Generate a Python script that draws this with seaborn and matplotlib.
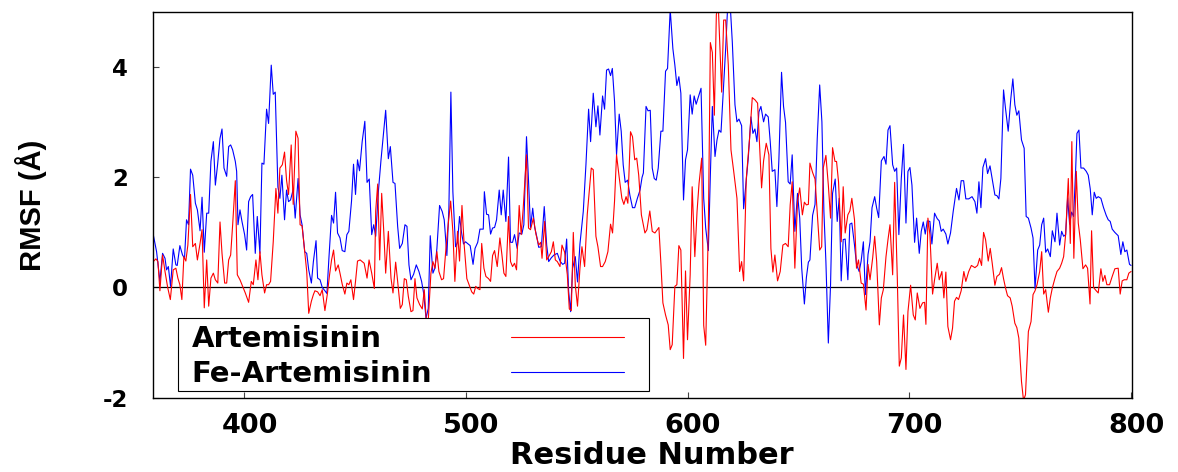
import matplotlib
matplotlib.use("Agg")
import matplotlib.pyplot as plt
from matplotlib import font_manager
from matplotlib.font_manager import FontProperties
from matplotlib.lines import Line2D
from matplotlib.patches import Rectangle
from matplotlib.transforms import ScaledTranslation
import pandas as pd
import seaborn as sns

# ---------------- data ----------------
# Fe-Artemisinin (blue)
fe_residue = [
    359.1, 360.6, 362.1, 363.3, 364.4, 365.1, 365.9, 366.9, 368.1, 369.3,
    369.9, 371.1, 372.3, 373.2, 374.1, 375.0, 375.9, 376.9, 378.1, 379.0,
    380.2, 381.1, 382.1, 383.2, 384.1, 385.1, 386.2, 387.1, 388.1, 389.2,
    390.1, 391.0, 392.2, 393.1, 394.0, 394.9, 396.1, 396.7, 397.3, 398.2,
    399.1, 400.3, 401.2, 402.1, 403.0, 403.9, 405.1, 406.0, 407.2, 408.1,
    409.0, 410.2, 411.1, 412.3, 413.2, 414.1, 415.3, 416.2, 417.1, 418.3,
    419.2, 420.1, 421.0, 422.2, 423.1, 424.4, 425.3, 426.2, 427.4, 428.3,
    429.2, 430.4, 431.3, 432.5,
    433.2, 434.3, 435.3, 436.5, 437.4, 438.3, 439.5, 440.4, 441.3, 442.2,
    443.3, 444.3, 445.5, 446.4, 447.3, 448.5, 449.4, 450.3, 451.2, 452.1,
    453.3, 454.5, 455.5, 456.5, 457.6, 458.5, 459.4, 460.6, 461.8, 463.0,
    463.9, 465.1, 466.0, 467.2, 468.1, 469.3, 470.2, 471.4, 472.6, 473.5,
    474.4, 475.3, 476.5, 477.7, 478.9, 480.1, 481.0, 482.1, 483.1, 484.0,
    485.2, 486.1, 487.0, 488.2, 489.4, 490.3, 491.5, 492.4, 493.3, 494.2,
    495.4, 496.3, 497.2, 498.1, 499.0, 499.9, 500.8, 502.0, 503.3, 504.2,
    505.4,
    506.4, 507.9, 508.4, 509.4, 510.3, 511.2, 512.1, 513.0, 513.9, 515.1,
    516.0, 516.9, 518.1, 519.3, 520.2, 521.1, 522.0, 523.2, 524.1, 525.3,
    526.2, 527.4, 528.3, 529.2, 530.2, 531.1, 532.0, 532.9, 534.1, 535.4,
    536.5, 537.4, 538.6, 539.8, 541.3, 542.5, 543.7, 544.6, 545.5, 546.4,
    547.3, 548.2, 549.4, 550.4, 551.5, 553.0, 554.2, 555.4, 556.3, 557.5,
    558.7, 559.6, 560.5, 561.7, 562.6, 563.5, 564.4, 565.3, 566.1, 567.1,
    568.0, 569.2, 570.1, 571.0, 571.9, 573.0, 574.0, 575.2, 576.2, 577.4,
    578.6, 579.5, 580.1,
    581.3, 582.2, 583.2, 584.1, 585.0, 585.9, 586.8, 588.0, 588.9, 590.1,
    591.0, 592.2, 593.4, 594.3, 595.2, 596.1, 597.0, 598.2, 599.1, 600.0,
    601.2, 602.1, 603.0, 603.9, 605.2, 606.1, 607.3, 608.2, 609.4, 610.3,
    611.2, 612.4, 613.3, 614.2, 615.1, 616.3, 617.2, 618.1, 619.3, 620.2,
    621.4, 622.3, 623.2, 624.4, 625.3, 626.5, 627.4, 628.6, 629.5, 630.4,
    631.3, 632.2, 633.1, 634.3, 635.2, 636.4, 637.3, 638.2, 639.4, 640.3,
    641.2, 642.4, 643.3, 644.2, 645.4, 646.3, 647.2, 648.4, 649.6, 650.6,
    651.5, 652.7, 653.6, 654.5,
    655.2, 656.4, 657.5, 658.5, 659.6, 660.6, 661.5, 662.4, 663.5, 664.5,
    665.4, 666.6, 667.5, 668.4, 669.3, 670.2, 671.1, 672.3, 673.2, 674.1,
    675.3, 676.2, 677.4, 678.3, 679.3, 680.2, 681.4, 682.3, 683.2, 684.4,
    685.3, 686.2, 687.4, 688.6, 689.5, 690.4, 691.3, 692.5, 693.4, 694.3,
    695.3, 696.4, 697.4, 698.5, 699.4, 700.3, 701.2, 702.4, 703.3, 704.5,
    705.4, 706.3, 707.2, 708.1, 709.3, 710.2, 711.4, 712.6, 713.5, 714.4,
    715.3, 716.5, 717.4, 718.6, 719.8, 721.3, 722.4, 723.4, 724.5, 725.5,
    726.8, 728.3,
    729.6, 730.5, 731.4, 732.3, 733.2, 734.4, 735.3, 736.4, 737.4, 738.6,
    739.5, 740.4, 741.3, 742.5, 743.4, 744.6, 745.8, 746.7, 747.6, 748.5,
    749.4, 750.6, 751.8, 752.7, 753.7, 754.9, 755.8, 756.7, 757.9, 758.8,
    759.7, 760.6, 761.5, 762.4, 763.6, 764.5, 765.7, 766.6, 767.8, 768.7,
    769.6, 770.5, 771.4, 772.3, 773.2, 774.1, 775.0, 775.6, 776.5, 777.4,
    778.6, 779.8, 780.7, 781.6, 782.5, 783.4, 784.3, 785.2, 786.4, 787.6,
    788.8, 789.7, 790.6, 791.5, 792.7, 794.2, 795.4, 796.3, 797.2, 798.1,
    799.3, 800.0,
]
fe_rmsf = [
    0.96, 0.65, 0.11, 0.62, 0.53, 0.32, 0.38, 0.02, 0.70, 0.41,
    0.40, 0.76, 0.59, 0.53, 1.23, 1.14, 2.15, 2.04, 1.53, 1.41,
    1.03, 1.64, 0.64, 1.35, 1.35, 2.29, 2.65, 1.86, 2.23, 2.71,
    2.88, 2.17, 2.02, 2.56, 2.59, 2.50, 2.29, 2.11, 1.14, 1.41,
    1.20, 0.96, 0.68, 1.56, 1.65, 1.69, 0.62, 1.29, 0.62, 2.26,
    2.24, 3.24, 2.98, 4.04, 3.51, 3.55, 1.83, 1.62, 2.04, 1.23,
    1.77, 1.56, 1.59, 1.78, 1.26, 1.98, 1.32, 1.14, 0.65, 0.62,
    0.32, 0.08, 0.47, 0.85,
    0.17, 0.14, 0.00, -0.06, -0.11, 0.53, 1.31, 1.17, 1.73, 0.99,
    0.90, 0.67, 0.65, 0.96, 1.02, 1.57, 2.24, 1.69, 2.32, 2.12,
    2.65, 3.02, 1.91, 1.97, 0.96, 1.14, 0.93, 1.74, 2.32, 2.84,
    3.22, 2.34, 2.56, 1.91, 1.89, 1.11, 0.71, 0.80, 1.14, 1.11,
    0.41, 0.14, 0.24, 0.41, 0.29, 0.11, -0.10, -0.56, -0.38, 0.94,
    0.26, 0.35, 0.71, 1.49, 1.38, 1.23, 0.58, 1.43, 3.55, 1.74,
    0.74, 0.82, 1.29, 1.00, 0.79, 0.83, 0.80, 0.76, 0.42, 0.71,
    0.82,
    1.06, 1.06, 1.74, 1.33, 1.32, 0.97, 1.08, 1.09, 1.23, 1.77,
    1.32, 1.77, 1.20, 2.37, 0.82, 0.82, 0.96, 0.71, 0.99, 0.97,
    1.14, 2.74, 1.95, 1.09, 1.44, 1.09, 0.93, 0.73, 0.74, 1.47,
    0.77, 0.47, 0.54, 0.59, 0.62, 0.48, 0.42, 0.44, 0.88, -0.07,
    -0.44, 0.35, 0.56, 0.10, 0.79, 1.38, 2.23, 3.24, 2.65, 3.53,
    2.92, 3.30, 2.77, 3.48, 3.24, 3.95, 3.97, 3.85, 3.98, 3.38,
    2.41, 3.15, 2.84, 2.23, 1.91, 1.95, 1.68, 1.45, 1.45, 1.62,
    1.77, 2.00, 2.08,
    3.29, 3.21, 3.22, 2.17, 1.98, 1.95, 2.17, 2.84, 2.84, 3.93,
    3.98, 5.05, 4.34, 4.04, 3.67, 3.83, 3.53, 1.59, 2.32, 2.50,
    3.50, 3.15, 3.48, 3.33, 3.50, 3.62, 1.62, 1.08, 0.67, 2.04,
    3.29, 2.38, 2.68, 2.86, 2.82, 3.68, 4.34, 5.10, 5.10, 4.46,
    3.32, 3.01, 3.06, 2.94, 1.43, 1.95, 2.35, 3.10, 2.80, 2.88,
    2.65, 3.19, 3.29, 3.01, 3.15, 3.10, 2.65, 2.11, 2.14, 1.47,
    2.32, 3.91, 3.29, 3.00, 1.92, 1.88, 2.41, 1.02, 1.71, 1.26,
    0.35, -0.30, 0.18, 0.46,
    0.50, 1.31, 1.51, 2.71, 3.68, 3.01, 1.38, 0.47, -1.01, 0.05,
    1.71, 1.97, 1.20, 1.62, 0.12, 0.87, 0.88, 0.14, 1.15, 1.17,
    0.77, 0.42, 0.29, 0.48, 0.83, -0.13, 0.60, 0.83, 1.45, 1.65,
    1.44, 1.27, 2.30, 2.38, 2.24, 2.86, 2.94, 2.23, 2.11, 2.17,
    0.96, 1.98, 2.60, 1.17, 2.11, 2.18, 1.86, 0.82, 1.26, 0.62,
    1.02, 1.19, 0.97, 1.21, 1.20, 0.79, 1.35, 1.25, 1.21, 1.02,
    1.06, 0.97, 0.79, 0.99, 1.38, 1.80, 1.59, 1.94, 1.94, 1.61,
    1.61, 1.65,
    1.56, 1.35, 1.92, 1.45, 2.18, 2.34, 2.07, 2.21, 1.97, 1.68,
    1.67, 1.61, 1.98, 3.59, 3.25, 2.84, 3.44, 3.79, 3.32, 3.13,
    3.21, 2.68, 2.53, 1.29, 1.26, 1.08, 0.90, -0.02, 0.68, 0.77,
    1.14, 1.26, 0.64, 0.70, 0.56, 1.03, 0.83, 1.35, 0.77, 1.02,
    0.93, 0.96, 1.63, 1.15, 1.37, 1.29, 2.12, 2.80, 2.86, 2.17,
    2.17, 2.11, 2.04, 1.79, 1.32, 1.73, 1.62, 1.65, 1.62, 1.45,
    1.31, 1.23, 1.20, 1.06, 1.00, 0.94, 0.60, 0.83, 0.65, 0.68,
    0.42, 0.40,
]

# Artemisinin (red)
art_residue = [
    359.1, 360.3, 361.2, 362.1, 363.3, 364.4, 365.6, 366.8, 368.1, 369.3,
    370.2, 371.1, 372.0, 372.9, 373.8, 374.7, 375.9, 376.9, 378.1, 379.0,
    380.2, 381.1, 382.1, 383.2, 384.1, 385.1, 386.2, 387.1, 388.2, 389.2,
    390.1, 391.3, 392.2, 393.1, 394.0, 394.9, 396.1, 397.0, 398.2, 399.4,
    400.6, 402.1, 403.3, 404.2, 405.4, 406.3, 407.2, 408.1, 409.3, 410.2,
    411.1, 412.0, 413.2, 414.4, 415.3, 416.2, 417.3, 418.3, 419.2, 420.1,
    421.3, 422.2, 423.4, 424.4, 425.3, 426.2, 427.1, 428.3, 429.2, 430.4,
    431.3,
    432.0, 433.2, 434.3, 435.3, 436.5, 437.6, 438.6, 439.5, 440.4, 441.3,
    442.5, 443.4, 444.3, 445.5, 446.4, 447.3, 448.2, 449.4, 450.3, 451.2,
    452.4, 454.2, 455.5, 456.4, 457.6, 458.8, 459.4, 460.3, 461.2, 462.1,
    463.0, 463.9, 465.1, 466.3, 467.2, 468.4, 469.3, 470.5, 471.4, 472.3,
    473.2, 474.1, 475.3, 476.2, 477.1, 478.0, 479.2, 480.4, 481.3, 482.2,
    483.1, 484.3, 485.2, 486.1, 487.0, 487.9, 489.1, 490.0, 490.9, 492.1,
    493.2, 494.2, 495.1, 496.3, 497.2, 498.3, 499.3, 500.5, 501.4, 502.7,
    503.6, 504.5, 505.4,
    506.4, 507.2, 508.2, 509.1, 510.3, 511.2, 512.1, 513.0, 514.2, 515.4,
    516.3, 517.2, 518.1, 519.3, 520.2, 521.1, 522.0, 522.9, 524.1, 525.0,
    525.9, 527.4, 528.3, 529.2, 530.5, 531.7, 532.9, 533.8, 534.4, 535.6,
    536.5, 537.4, 538.6, 539.5, 540.4, 541.3, 542.5, 543.4, 544.6, 545.8,
    546.7, 547.6, 548.5, 549.4, 550.4, 551.5, 552.4, 553.6, 554.8, 556.6,
    557.5, 558.7, 559.6, 560.8, 561.7, 562.9, 564.1, 565.3, 566.2, 567.1,
    568.0, 569.2, 570.4, 571.3, 572.3, 573.1, 574.3, 575.2, 576.2, 577.1,
    578.0, 579.2, 580.1,
    580.8, 581.7, 583.0, 584.1, 585.3, 587.1, 588.0, 588.9, 590.1, 591.3,
    592.2, 593.1, 594.3, 595.2, 596.1, 597.0, 598.2, 599.1, 600.0, 601.2,
    602.1, 603.3, 604.3, 605.2, 606.4, 607.3, 608.2, 609.4, 610.3, 611.2,
    612.1, 613.0, 613.9, 615.4, 616.3, 617.2, 618.4, 619.6, 620.8, 622.3,
    623.5, 624.4, 625.3, 626.5, 628.0, 629.2, 630.4, 631.6, 633.4, 634.3,
    635.5, 636.7, 637.6, 638.5, 639.4, 640.6, 641.8, 643.0, 644.2, 645.4,
    646.3, 647.2, 648.4, 649.6, 650.6, 651.8, 652.7, 653.6, 654.5,
    655.2, 656.4, 657.5, 658.5, 659.6, 660.5, 661.2, 662.4, 663.5, 664.5,
    665.4, 666.5, 667.2, 668.1, 669.3, 670.2, 671.1, 672.3, 673.2, 674.1,
    675.3, 676.2, 677.1, 678.3, 679.3, 680.5, 681.4, 682.3, 683.5, 684.4,
    685.3, 686.5, 687.4, 688.3, 689.5, 690.4, 691.3, 692.5, 693.4, 694.6,
    695.5, 696.4, 697.4, 698.5, 699.4, 700.6, 701.8, 702.7, 703.6, 704.8,
    706.0, 706.9, 707.5, 708.4, 709.3, 710.5, 711.4, 712.6, 713.5, 714.7,
    715.6, 716.5, 717.4, 718.6, 719.5, 720.4, 721.3, 722.2, 723.4, 724.6,
    725.5, 726.8, 728.0,
    729.6, 730.8, 731.7, 732.6, 733.5, 734.4, 735.6, 736.5, 737.4, 738.6,
    739.5, 740.7, 741.6, 742.5, 743.4, 744.3, 745.5, 746.4, 747.6, 748.5,
    749.4, 750.6, 751.5, 752.4, 753.7, 754.9, 755.8, 756.7, 757.6, 758.8,
    759.7, 760.6, 761.5, 762.7, 763.6, 764.5, 765.7, 766.6, 767.8, 768.7,
    769.6, 770.5, 771.7, 772.6, 773.3, 774.2, 775.3, 776.2, 777.1, 778.3,
    779.5, 780.4, 781.5, 782.2, 783.1, 784.3, 785.2, 786.4, 787.3, 788.2,
    789.1, 790.3, 791.5, 792.7, 794.2, 795.1, 796.0, 796.9, 798.1, 799.0,
    800.0,
]
art_rmsf = [
    0.47, 0.52, 0.47, -0.06, 0.59, 0.29, 0.00, -0.22, 0.32, 0.35,
    0.17, 0.05, -0.22, 0.56, 0.48, 0.77, 1.69, 0.74, 0.80, 0.50,
    0.80, 1.05, -0.37, 0.50, -0.34, 0.17, 0.26, 0.14, 0.08, 1.19,
    0.62, 0.08, 0.08, 0.50, 0.59, 1.14, 1.94, 0.23, 0.14, 0.02,
    -0.10, -0.27, 0.11, 0.05, 0.50, 0.14, 0.65, 0.23, -0.10, 0.05,
    0.05, 0.11, 0.83, 1.80, 1.35, 2.17, 2.23, 2.46, 1.95, 1.69,
    2.59, 1.51, 2.84, 2.71, 1.14, 1.12, 0.77, 0.29, -0.47, -0.25,
    -0.13,
    -0.06, -0.08, -0.15, -0.04, -0.42, -0.12, 0.23, 0.50, 0.68, 0.30,
    0.41, 0.24, 0.06, -0.12, 0.08, 0.05, 0.14, -0.22, 0.11, 0.48,
    0.50, 0.44, 0.17, 0.50, 0.26, -0.02, 1.39, 1.88, 0.50, 1.71,
    1.05, 0.26, 1.02, 0.17, -0.10, 0.46, 0.11, -0.38, -0.31, 0.16,
    0.14, -0.16, -0.44, -0.42, 0.16, -0.19, -0.31, -0.39, -0.04, -0.59,
    -0.60, 0.26, 0.47, 0.35, 0.65, 0.29, 0.14, 0.16, 0.62, 1.15,
    1.57, 1.02, 0.11, 1.02, 0.48, 1.49, 0.77, 0.16, 0.06, -0.08,
    -0.12, 0.02, -0.02,
    -0.04, 0.80, 0.35, 0.20, 0.16, 0.11, 0.58, 0.67, 0.38, 0.90,
    0.60, 0.26, 0.20, 1.29, 0.47, 0.38, 0.44, 0.32, 1.49, 0.96,
    1.43, 2.41, 1.08, 1.05, 1.26, 0.96, 0.77, 0.82, 0.53, 1.20,
    0.50, 0.56, 0.65, 0.83, 0.50, 0.47, 0.38, 0.77, 0.64, 0.23,
    -0.39, -0.42, 1.00, 0.04, -0.34, 0.35, 0.74, 0.38, 1.33, 2.17,
    2.14, 0.93, 0.74, 0.38, 0.38, 0.47, 0.65, 1.15, 0.99, 1.57,
    2.41, 2.00, 1.62, 1.51, 1.65, 1.53, 2.83, 2.74, 2.32, 2.35,
    2.04, 1.32, 1.14,
    0.99, 1.05, 1.39, 1.02, 0.99, 1.09, 0.44, -0.28, -0.50, -0.68,
    -1.13, -1.04, 0.02, 0.05, 0.76, 0.68, -1.29, 0.30, -0.95, 0.23,
    1.83, 0.56, 1.38, 1.89, 2.35, -0.69, -1.05, 1.08, 4.45, 4.27,
    3.13, 4.96, 5.10, 3.55, 4.86, 4.86, 4.04, 2.50, 2.12, 1.62,
    0.29, 0.47, 0.12, 1.98, 2.71, 3.45, 3.41, 3.35, 1.81, 2.30,
    2.62, 2.41, 0.71, 0.28, 0.59, 0.12, 0.29, 0.77, 0.80, 0.74,
    1.50, 1.92, 0.35, 1.56, 1.81, 1.32, 1.55, 1.50, 1.51,
    2.26, 2.09, 1.97, 1.35, 0.68, 0.74, 2.17, 2.40, 1.86, 1.26,
    2.54, 2.29, 2.29, 1.92, 0.83, 1.83, 0.99, 1.32, 1.39, 1.62,
    1.23, 0.35, 0.50, 0.08, 0.06, -0.41, 0.42, 0.14, 0.54, 0.93,
    0.47, -0.68, -0.19, -0.04, 0.56, 0.87, 1.14, 0.23, 1.91, 0.17,
    -1.43, -1.28, -0.50, -1.49, -0.44, 0.04, -0.50, -0.59, -0.10, -0.38,
    -0.28, -0.27, -0.67, 1.26, 0.96, -0.12, 0.14, 0.44, 0.14, 0.29,
    -0.19, 0.28, -0.71, -0.95, -0.74, -0.25, -0.18, -0.22, -0.06, 0.29,
    0.11, 0.29, 0.40,
    0.36, 0.40, 0.53, 0.40, 1.00, 0.87, 0.48, 0.71, 0.44, 0.04,
    0.20, 0.24, 0.36, 0.16, -0.01, -0.15, -0.19, -0.34, -0.65, -0.73,
    -0.92, -1.71, -2.05, -1.95, -0.80, -0.62, -0.13, -0.06, 0.05, 0.29,
    0.65, -0.12, -0.04, -0.45, -0.19, -0.01, 0.17, 0.29, 0.35, 0.44,
    0.56, 0.96, 1.98, 0.80, 2.65, 0.53, 2.11, 1.17, 0.87, 0.34,
    0.41, 0.35, -0.30, 1.03, 0.00, -0.06, -0.10, 0.34, 0.11, 0.22,
    0.05, 0.05, 0.20, 0.34, 0.35, -0.12, 0.12, 0.14, 0.14, 0.26,
    0.29,
]

series_labels = ["Artemisinin", "Fe-Artemisinin"]
series_colors = ["#ff0000", "#0000ff"]
x_ticks = [400, 500, 600, 700, 800]
y_ticks = [-2, 0, 2, 4]
x_limits = (359.1, 800.4)
y_limits = (-2, 5)
x_title = "Residue Number"
y_title = "RMSF (Å)"

assert len(fe_residue) == len(fe_rmsf), (len(fe_residue), len(fe_rmsf))
assert len(art_residue) == len(art_rmsf), (len(art_residue), len(art_rmsf))

# ---------------- style ----------------
sns.set_theme(style="white")
plt.rcParams["font.family"] = ["DejaVu Sans"]
available = {f.name for f in font_manager.fontManager.ttflist}
narrow = "Liberation Sans Narrow" if "Liberation Sans Narrow" in available else "Liberation Sans"

df = pd.concat([
    pd.DataFrame({"residue": art_residue, "rmsf": art_rmsf, "system": series_labels[0]}),
    pd.DataFrame({"residue": fe_residue, "rmsf": fe_rmsf, "system": series_labels[1]}),
], ignore_index=True)

fig = plt.figure(figsize=(11.78, 4.72), dpi=100)
ax = fig.add_axes([0.1301, 0.1578, 0.8308, 0.8161])
px_per_pt = fig.dpi / 72.0

sns.lineplot(data=df, x="residue", y="rmsf", hue="system",
             hue_order=[series_labels[1], series_labels[0]],
             palette=dict(zip(series_labels, series_colors)),
             linewidth=0.8, estimator=None, errorbar=None, sort=True,
             legend=False, ax=ax)
ax.axhline(0, color="black", lw=0.9, zorder=1.5)

ax.set_xlim(*x_limits)
ax.set_ylim(*y_limits)
ax.set_xticks(x_ticks)
ax.set_xticklabels([str(t) for t in x_ticks])
ax.set_yticks(y_ticks)
ax.set_yticklabels([str(t) for t in y_ticks])

for s in ax.spines.values():
    s.set_visible(True)
    s.set_color("black")
    s.set_linewidth(1.0)
ax.grid(False)
ax.tick_params(axis="both", which="major", direction="in", length=4.3,
               width=0.8, color="#444444", bottom=True, left=True,
               top=False, right=False)
ax.tick_params(axis="x", pad=11.2)
ax.tick_params(axis="y", pad=18)
for lab in ax.get_xticklabels():
    lab.set_fontproperties(FontProperties(family="DejaVu Sans", weight="bold", size=19.5))
    lab.set_color("black")
    lab.set_transform(lab.get_transform() + ScaledTranslation(5.5 / 100, 0, fig.dpi_scale_trans))
for lab in ax.get_yticklabels():
    lab.set_fontproperties(FontProperties(family="DejaVu Sans", weight="bold", size=16.5))
    lab.set_color("black")

ax.set_xlabel(x_title, fontproperties=FontProperties(family="DejaVu Sans", weight="bold", size=22), color="black")
ax.xaxis.set_label_coords(0.5096, -0.1125)
ax.set_ylabel(y_title, fontproperties=FontProperties(family=[narrow, "DejaVu Sans"], weight="bold", size=21), color="black")
ax.yaxis.set_label_coords(-0.1089, 0.5)

# legend box (white, black edge)
ax.add_patch(Rectangle((0.02554, 0.01687), 0.5062 - 0.02554, 0.2056 - 0.01687,
                       transform=ax.transAxes, facecolor="white", edgecolor="black",
                       lw=0.8, zorder=5, clip_on=False))
fs = 21
handles = [Line2D([], [], color=c, lw=0.8) for c in series_colors]
leg = ax.legend(handles, series_labels, loc="upper left",
                bbox_to_anchor=(0.0392, 0.188), bbox_transform=ax.transAxes,
                frameon=False, borderpad=0, borderaxespad=0, markerfirst=False,
                handlelength=113 / (fs * px_per_pt), handleheight=0.7,
                handletextpad=1.0, labelspacing=0.24,
                prop=FontProperties(family="DejaVu Sans", weight="bold", size=fs))
leg.set_zorder(6)
for t in leg.get_texts():
    t.set_color("black")

fig.canvas.draw()
renderer = fig.canvas.get_renderer()
widths = [t.get_window_extent(renderer).width for t in leg.get_texts()]
column = leg._legend_handle_box.get_children()[0]
for row, w in zip(column.get_children(), widths):
    row.sep = (511 - 192 - w) / px_per_pt

fig.savefig("out.png", dpi=100)
